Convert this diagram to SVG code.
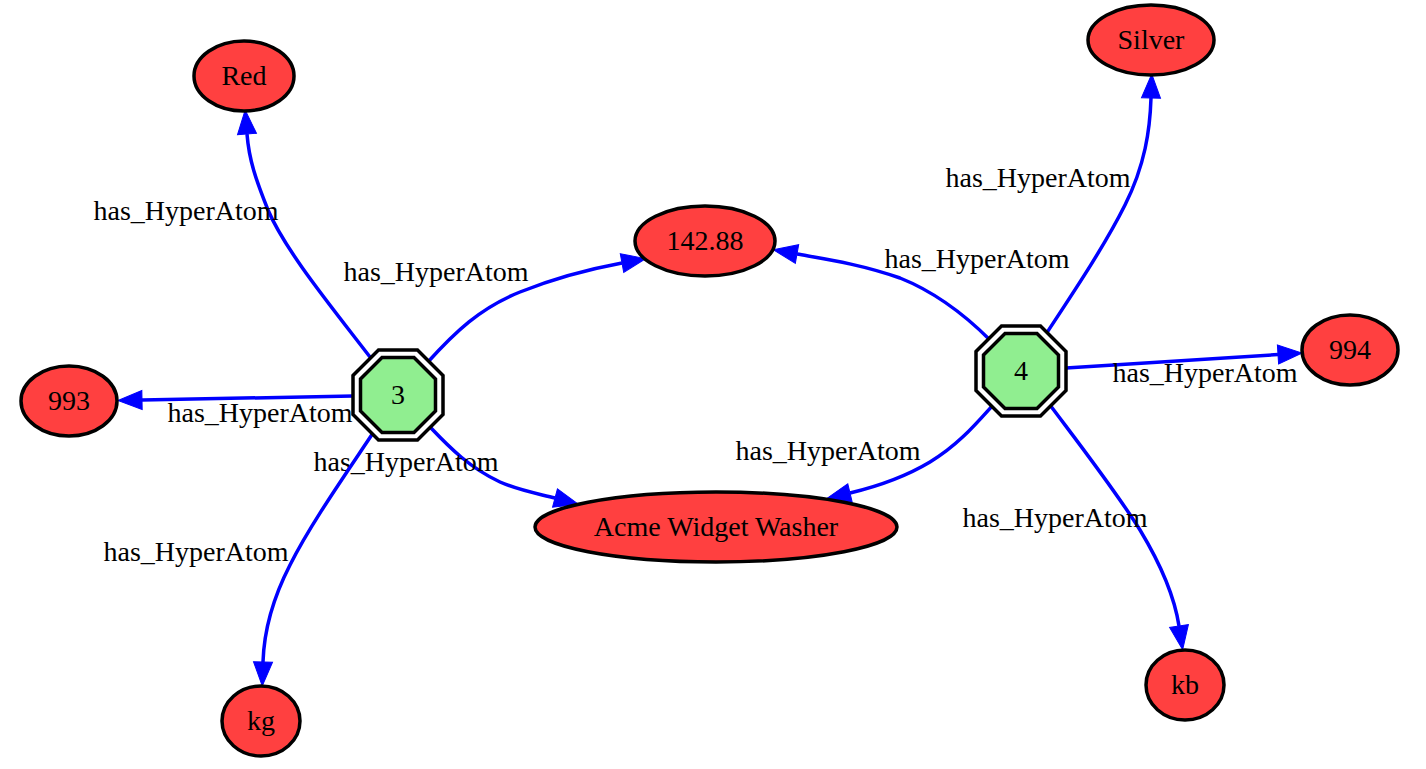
<svg xmlns="http://www.w3.org/2000/svg" width="1426" height="769" viewBox="0 0 1426 769">
<style>
.atom{fill:#ff4040;stroke:#000;stroke-width:3.5}
.hyp{fill:#90ee90;stroke:#000;stroke-width:3.5}
.hypo{fill:#fff;stroke:#000;stroke-width:3.5}
.edge{fill:none;stroke:#0000ff;stroke-width:3.5;marker-end:url(#arr)}
text{font-family:"Liberation Serif","Times New Roman",serif;font-size:28px;fill:#000;text-anchor:middle}
</style>
<defs>
<marker id="arr" markerUnits="userSpaceOnUse" markerWidth="26" markerHeight="20" refX="0" refY="9.5" orient="auto" viewBox="0 0 26 19" overflow="visible">
<path d="M0,0 L24,9.5 L0,19 Z" fill="#0000ff" stroke="#0000ff" stroke-width="1"/>
</marker>
</defs>
<rect width="1426" height="769" fill="#fff"/>
<g id="connectors">
<path class="edge" d="M370,357 C330,305 285,250 268,210 C256,180 249,160 247,134"/>
<text x="186" y="220">has_HyperAtom</text>
<path class="edge" d="M427,363 C455,332 480,308 520,292 C560,276 595,268 622,263"/>
<text x="436" y="281">has_HyperAtom</text>
<path class="edge" d="M353,396 L142,400"/>
<text x="260" y="422">has_HyperAtom</text>
<path class="edge" d="M431,428 C450,448 470,468 500,482 C520,491 540,494 555,498"/>
<text x="406" y="471">has_HyperAtom</text>
<path class="edge" d="M373,433 C345,475 310,525 290,565 C272,600 264,630 263,662"/>
<text x="196" y="561">has_HyperAtom</text>
<path class="edge" d="M1046,334 C1075,290 1105,245 1125,205 C1145,165 1150,130 1151,98"/>
<text x="1038" y="187">has_HyperAtom</text>
<path class="edge" d="M990,340 C965,315 935,292 900,278 C860,264 825,259 797,254"/>
<text x="977" y="268">has_HyperAtom</text>
<path class="edge" d="M1066,368 L1278,354.5"/>
<text x="1205" y="382">has_HyperAtom</text>
<path class="edge" d="M993,405 C975,425 958,445 930,462 C905,477 875,487 850,493"/>
<text x="828" y="460">has_HyperAtom</text>
<path class="edge" d="M1050,405 C1080,445 1115,490 1140,530 C1163,568 1175,600 1179,626"/>
<text x="1055" y="527">has_HyperAtom</text>
</g>
<g id="node-3" transform="translate(398,395)">
<polygon class="hypo" points="-19.5,-45 19.5,-45 45,-19.5 45,19.5 19.5,45 -19.5,45 -45,19.5 -45,-19.5"/>
<polygon class="hyp" points="-16,-37.5 16,-37.5 37.5,-16 37.5,16 16,37.5 -16,37.5 -37.5,16 -37.5,-16"/>
<text x="0" y="9">3</text>
</g>
<g id="node-4" transform="translate(1021,371)">
<polygon class="hypo" points="-19.5,-45 19.5,-45 45,-19.5 45,19.5 19.5,45 -19.5,45 -45,19.5 -45,-19.5"/>
<polygon class="hyp" points="-16,-37.5 16,-37.5 37.5,-16 37.5,16 16,37.5 -16,37.5 -37.5,16 -37.5,-16"/>
<text x="0" y="9">4</text>
</g>
<g id="node-red"><ellipse class="atom" cx="244" cy="76" rx="50" ry="35"/><text x="244" y="85">Red</text></g>
<g id="node-silver"><ellipse class="atom" cx="1151" cy="40" rx="63" ry="35"/><text x="1151" y="49">Silver</text></g>
<g id="node-142"><ellipse class="atom" cx="705" cy="241" rx="70" ry="35"/><text x="705" y="250">142.88</text></g>
<g id="node-994"><ellipse class="atom" cx="1350" cy="350" rx="48" ry="35"/><text x="1350" y="359">994</text></g>
<g id="node-993"><ellipse class="atom" cx="69" cy="401" rx="48" ry="35"/><text x="69" y="410">993</text></g>
<g id="node-acme"><ellipse class="atom" cx="716" cy="527" rx="181" ry="35"/><text x="716" y="536">Acme Widget Washer</text></g>
<g id="node-kg"><ellipse class="atom" cx="261" cy="721" rx="39" ry="35"/><text x="261" y="730">kg</text></g>
<g id="node-kb"><ellipse class="atom" cx="1185" cy="685" rx="39" ry="35"/><text x="1185" y="694">kb</text></g>
</svg>
